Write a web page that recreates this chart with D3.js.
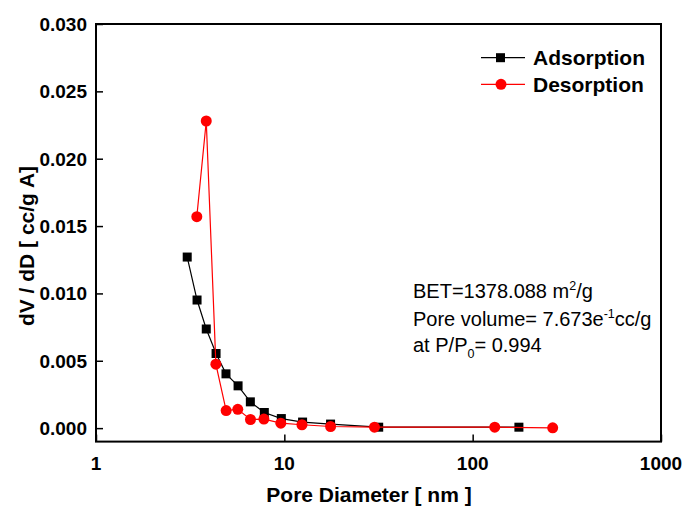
<!DOCTYPE html>
<html><head><meta charset="utf-8">
<script src="https://cdn.jsdelivr.net/npm/d3@7"></script>
<style>body{margin:0;background:#fff}svg{display:block}text{font-family:"Liberation Sans",Arial,sans-serif}</style>
</head><body>
<svg id="c" width="684" height="506"></svg>
<script>
const adsX = [3.05, 3.44, 3.85, 4.34, 4.90, 5.68, 6.60, 7.83, 9.64, 12.5, 17.6, 31.7, 176];
const adsY = [0.0127, 0.00951, 0.00736, 0.00554, 0.00403, 0.00314, 0.00195, 0.00116, 0.00071, 0.00045, 0.0003, 0.00007, 0.00007];
const desX = [3.43, 3.85, 4.33, 4.91, 5.66, 6.61, 7.79, 9.58, 12.4, 17.6, 30.1, 131, 266];
const desY = [0.0157, 0.0228, 0.00475, 0.0013, 0.0014, 0.00064, 0.00067, 0.00037, 0.00025, 0.00012, 0.00007, 0.00007, 0.00002];
const xTicks = [1, 10, 100, 1000];
const yTicks = [0.000, 0.005, 0.010, 0.015, 0.020, 0.025, 0.030];
const seriesNames = ["Adsorption", "Desorption"];

const svg = d3.select("#c");
const L = 96, T = 24, W = 565, H = 417.6;
const x = d3.scaleLog().domain([1, 1000]).range([L, L + W]);
const y = d3.scaleLinear().domain([-0.001, 0.030]).range([T + H, T]);

// frame
svg.append("rect").attr("x", L).attr("y", T).attr("width", W).attr("height", H)
  .attr("fill", "none").attr("stroke", "#000").attr("stroke-width", 2);

// x ticks (inward)
const xMinor = [];
for (let d = 1; d < 1000; d *= 10) for (let k = 2; k <= 9; k++) xMinor.push(d * k);
const gx = svg.append("g").attr("transform", `translate(0,${T + H})`);
gx.call(d3.axisTop(x).tickValues(xMinor).tickSize(4).tickFormat(""))
  .call(g => g.select(".domain").remove());
gx.call(d3.axisTop(x).tickValues(xTicks).tickSize(7).tickFormat(""))
  .call(g => g.select(".domain").remove());
gx.selectAll("line").attr("stroke-width", 1.5);
svg.append("g").selectAll("text").data(xTicks).join("text")
  .attr("x", d => x(d)).attr("y", T + H + 28)
  .attr("text-anchor", "middle").attr("font-size", 19).attr("font-weight", "bold")
  .text(d => d);

// y ticks (inward)
const yMinor = d3.range(0.0025, 0.030, 0.005);
const gy = svg.append("g").attr("transform", `translate(${L},0)`);
gy.call(d3.axisRight(y).tickValues(yMinor).tickSize(4).tickFormat(""))
  .call(g => g.select(".domain").remove());
gy.call(d3.axisRight(y).tickValues(yTicks).tickSize(7).tickFormat(""))
  .call(g => g.select(".domain").remove());
gy.selectAll("line").attr("stroke-width", 1.5);
svg.append("g").selectAll("text").data(yTicks).join("text")
  .attr("x", L - 9).attr("y", d => y(d) + 7)
  .attr("text-anchor", "end").attr("font-size", 19).attr("font-weight", "bold")
  .text(d => d3.format(".3f")(d));

// axis titles
svg.append("text").attr("x", 369).attr("y", 502)
  .attr("text-anchor", "middle").attr("font-size", 21).attr("font-weight", "bold")
  .text("Pore Diameter [ nm ]");
svg.append("text").attr("transform", `translate(34,246) rotate(-90)`)
  .attr("text-anchor", "middle").attr("font-size", 21).attr("font-weight", "bold")
  .text("dV / dD [ cc/g A]");

// series
const ads = adsX.map((v, i) => [v, adsY[i]]);
const des = desX.map((v, i) => [v, desY[i]]);
const line = d3.line().x(d => x(d[0])).y(d => y(d[1]));
svg.append("path").attr("d", line(ads)).attr("fill", "none").attr("stroke", "#000").attr("stroke-width", 1.2);
svg.append("g").selectAll("rect").data(ads).join("rect")
  .attr("x", d => x(d[0]) - 4.5).attr("y", d => y(d[1]) - 4.5)
  .attr("width", 9).attr("height", 9).attr("fill", "#000");
svg.append("path").attr("d", line(des)).attr("fill", "none").attr("stroke", "#ff0000").attr("stroke-width", 1.2);
svg.append("g").selectAll("circle").data(des).join("circle")
  .attr("cx", d => x(d[0])).attr("cy", d => y(d[1])).attr("r", 5.5).attr("fill", "#ff0000");

// legend
const lg = svg.append("g");
[["#000", "sq"], ["#ff0000", "ci"]].forEach((s, i) => {
  const yy = 57.7 + i * 26.6;
  lg.append("line").attr("x1", 481).attr("x2", 525).attr("y1", yy).attr("y2", yy)
    .attr("stroke", s[0]).attr("stroke-width", 1.2);
  if (s[1] === "sq") lg.append("rect").attr("x", 496).attr("y", yy - 4.5).attr("width", 9).attr("height", 9).attr("fill", s[0]);
  else lg.append("circle").attr("cx", 501).attr("cy", yy).attr("r", 5.5).attr("fill", s[0]);
  lg.append("text").attr("x", 533).attr("y", yy + 7.5).attr("font-size", 21).attr("font-weight", "bold")
    .text(seriesNames[i]);
});

// annotation
const ann = svg.append("text").attr("font-size", 20).attr("fill", "#000");
const t1 = ann.append("tspan").attr("x", 413).attr("y", 298);
t1.append("tspan").text("BET=1378.088 m");
t1.append("tspan").attr("font-size", 12.5).attr("dy", -8).text("2");
t1.append("tspan").attr("dy", 8).text("/g");
const t2 = ann.append("tspan").attr("x", 413).attr("y", 326);
t2.append("tspan").text("Pore volume= 7.673e");
t2.append("tspan").attr("font-size", 12.5).attr("dy", -8).text("-1");
t2.append("tspan").attr("dy", 8).text("cc/g");
const t3 = ann.append("tspan").attr("x", 413).attr("y", 352);
t3.append("tspan").text("at P/P");
t3.append("tspan").attr("font-size", 12.5).attr("dy", 6).text("0");
t3.append("tspan").attr("dy", -6).text("= 0.994");
</script>
</body></html>
